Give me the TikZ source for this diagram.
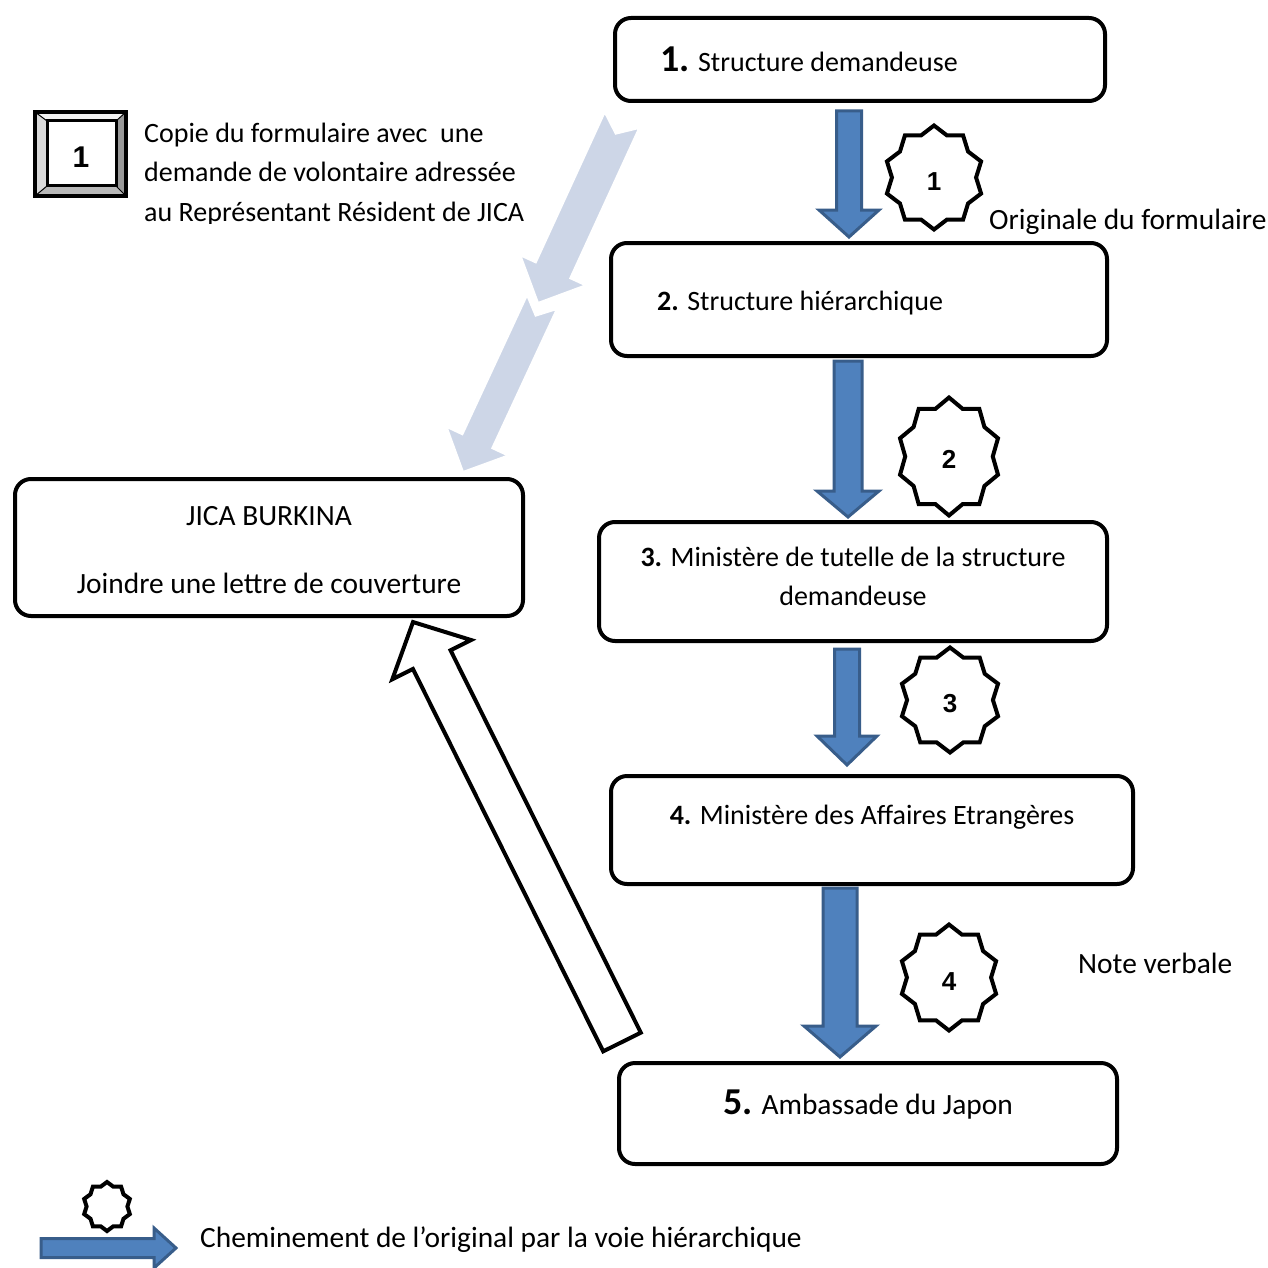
\documentclass[tikz,border=0pt]{standalone}
\usepackage{fontspec}
\setmainfont{Carlito}
\newfontfamily\arialfont{Liberation Sans}
\usetikzlibrary{calc}
\definecolor{bluefill}{HTML}{4F81BD}
\definecolor{blueline}{HTML}{385D8A}
\definecolor{paleblue}{HTML}{CDD6E7}

\newcommand\fatarrow[7]{%
 \begin{scope}
 \path (#2); \pgfgetlastxy{\faxa}{\faya}%
 \path (#3); \pgfgetlastxy{\faxb}{\fayb}%
 \pgfmathsetmacro\faang{atan2(\fayb-\faya,\faxb-\faxa)}%
 \pgfmathsetmacro\falen{veclen(\fayb-\faya,\faxb-\faxa)}%
 \pgfmathsetmacro\fabase{\falen-#6}%
 \path[#1, shift={(\faxa,\faya)}, rotate=\faang]
   (0pt,#4pt) -- (\fabase pt,#4pt) -- (\fabase pt,#5pt) -- (\falen pt,0pt)
   -- (\fabase pt,-#5pt) -- (\fabase pt,-#4pt) -- (0pt,-#4pt) -- (#7pt,0pt) -- cycle;
 \end{scope}}

\newcommand\tenstar[4]{%
 \draw[starline] plot[samples at={0,1,...,19}, variable=\k]
  ({#1+#3*(1-0.15*mod(\k,2))*cos(90+18*\k)}, {#2-#4*(1-0.15*mod(\k,2))*sin(90+18*\k)}) -- cycle;}

\tikzset{
  box/.style={draw=black, line width=4pt, rounded corners=16pt, fill=white, inner sep=0pt},
  txt/.style={font=\fontsize{28}{39}\selectfont, inner sep=0pt},
  txtb/.style={font=\fontsize{29.4}{39}\selectfont, inner sep=0pt},
  digit/.style={font=\arialfont\bfseries\fontsize{26}{28}\selectfont, inner sep=0pt},
  starline/.style={draw=black, line width=4pt, fill=white, line join=miter},
  bluearrow/.style={fill=bluefill, draw=blueline, line width=3pt, line join=miter},
  palearrow/.style={fill=paleblue, draw=white, line width=2pt, line join=miter},
  whitearrow/.style={fill=white, draw=black, line width=4pt, line join=miter}
}

\begin{document}
\begin{tikzpicture}[x=1pt,y=-1pt]
\useasboundingbox (0,0) rectangle (1268,1268);
\fill[white] (0,0) rectangle (1268,1268);

% pale copy arrows
\coordinate (pbS) at (542,302); \coordinate (pbE) at (463,472);
\coordinate (paS) at (622,120); \coordinate (paE) at (538,303);
\fatarrow{palearrow}{pbS}{pbE}{16.5}{34}{34}{15}
\fatarrow{palearrow}{paS}{paE}{19}{36}{36}{15}

% boxes
\node[box, minimum width=490pt, minimum height=83pt] (b1) at (860,59.5) {};
\node[box, minimum width=496pt, minimum height=113pt] (b2) at (859,299.5) {};
\node[box, minimum width=508pt, minimum height=119pt] (b3) at (853,581.5) {};
\node[box, minimum width=522pt, minimum height=108pt] (b4) at (872,830) {};
\node[box, minimum width=498pt, minimum height=101pt] (b5) at (868,1113.5) {};
\node[box, minimum width=508pt, minimum height=137pt] (jica) at (269,547.5) {};

% blue arrows (original path)
\coordinate (a1s) at (849,111); \coordinate (a1e) at (849,237);
\coordinate (a2s) at (848,361); \coordinate (a2e) at (848,517);
\coordinate (a3s) at (847,649); \coordinate (a3e) at (847,765);
\coordinate (a4s) at (840,888); \coordinate (a4e) at (840,1057);
\fatarrow{bluearrow}{a1s}{a1e}{12.5}{30}{27}{0}
\fatarrow{bluearrow}{a2s}{a2e}{14}{31}{26}{0}
\fatarrow{bluearrow}{a3s}{a3e}{12.5}{30}{29}{0}
\fatarrow{bluearrow}{a4s}{a4e}{17}{36}{31}{0}

% white arrow to JICA
\coordinate (wS) at (622,1042); \coordinate (wE) at (413,622);
\fatarrow{whitearrow}{wS}{wE}{21}{44}{42}{0}

% stars
\tenstar{934}{177.5}{49.5}{52}
\tenstar{949}{456.5}{51.5}{59}
\tenstar{950}{700}{50.5}{52.5}
\tenstar{949}{977.5}{49.5}{53}
\node[digit] (s1) at (934,182) {1};
\node[digit] (s2) at (949,459) {2};
\node[digit] (s3) at (950,704) {3};
\node[digit] (s4) at (949,982) {4};

% bevel box
\fill[white!95!black] (35,112) -- (126,112) -- (116,121) -- (47,121) -- cycle;
\fill[black!15] (35,112) -- (47,121) -- (47,186) -- (35,196) -- cycle;
\fill[black!40] (126,112) -- (126,196) -- (116,186) -- (116,121) -- cycle;
\fill[black!28] (35,196) -- (47,186) -- (116,186) -- (126,196) -- cycle;
\draw[line width=1pt] (35,112) -- (47,121) (126,112) -- (116,121) (35,196) -- (47,186) (126,196) -- (116,186);
\draw[line width=3pt] (47,121) rectangle (116,186);
\draw[line width=4pt] (35,112) rectangle (126,196);
\node[font=\arialfont\bfseries\fontsize{30}{30}\selectfont, inner sep=0pt] (bev) at (81,157) {1};

% copy text (clipped as in the original)
\begin{scope}
\clip (130,100) rectangle (600,223);
\node[txt, anchor=base west] (c1) at (144,143) {Copie du formulaire avec\ \ une};
\node[txt, anchor=base west] (c2) at (144,182) {demande de volontaire adressée};
\node[txt, anchor=base west] (c3) at (144,221) {au Représentant Résident de JICA};
\end{scope}

% box texts
\node[txt, anchor=base west] (t1) at (660,72) {{\fontsize{38}{40}\selectfont\bfseries 1.} Structure demandeuse};
\node[txt, anchor=base west] (t2) at (657,310) {\textbf{2.} Structure hiérarchique};
\node[txt, anchor=base] (t3a) at (853,566) {\textbf{3.} Ministère de tutelle de la structure};
\node[txt, anchor=base] (t3b) at (853,605) {demandeuse};
\node[txt, anchor=base] (t4) at (872,824) {\textbf{4.} Ministère des Affaires Etrangères};
\node[txtb, anchor=base] (t5) at (868,1114) {{\fontsize{38}{40}\selectfont\bfseries 5.} Ambassade du Japon};
\node[txtb, anchor=base] (j1) at (269,525) {JICA BURKINA};
\node[txtb, anchor=base] (j2) at (269,593) {Joindre une lettre de couverture};

\node[txtb, anchor=base west] (orig) at (989,229) {Originale du formulaire};
\node[txtb, anchor=base west] (note) at (1078,973) {Note verbale};

% legend
\tenstar{107}{1206.5}{24}{24.5}
\coordinate (lgS) at (41,1248); \coordinate (lgE) at (176,1248);
\fatarrow{bluearrow}{lgS}{lgE}{9.5}{20}{22}{0}
\node[txtb, anchor=base west] (leg) at (200,1247) {Cheminement de l’original par la voie hiérarchique};
\end{tikzpicture}
\end{document}
